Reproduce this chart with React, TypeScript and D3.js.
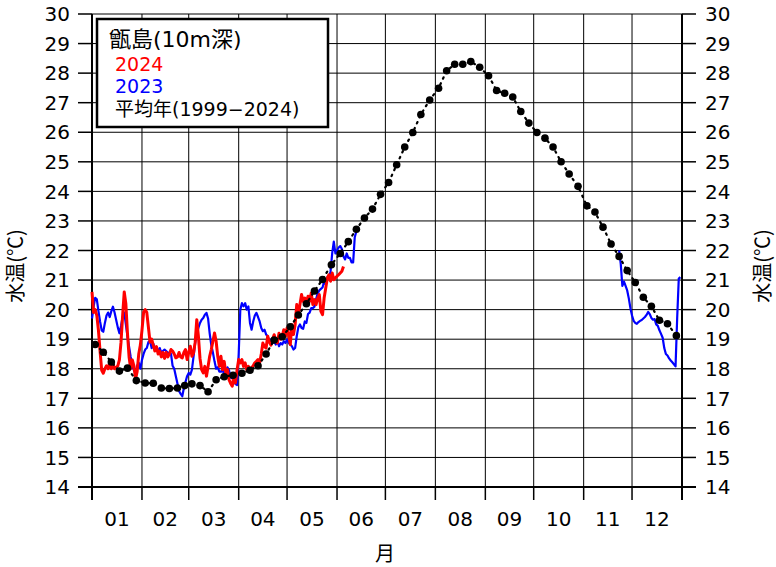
import React from "react";
import * as d3 from "d3";

// ---- data ----
const monthDays = [31, 29, 31, 30, 31, 30, 31, 31, 30, 31, 30, 31];
const monthLabels = ["01", "02", "03", "04", "05", "06", "07", "08", "09", "10", "11", "12"];
const yTicks = [14, 15, 16, 17, 18, 19, 20, 21, 22, 23, 24, 25, 26, 27, 28, 29, 30];

// 平均年 (1999-2024): half-month-period (半旬) means, 6 per month
const avgValues = [
  18.82, 18.56, 18.23, 17.92, 18.02, 17.6,
  17.52, 17.51, 17.35, 17.33, 17.35, 17.43,
  17.49, 17.43, 17.22, 17.63, 17.73, 17.78,
  17.85, 17.95, 18.1, 18.5, 18.97, 19.08,
  19.42, 19.82, 20.2, 20.63, 21.02, 21.52,
  21.9, 22.3, 22.72, 23.1, 23.4, 23.9,
  24.3, 24.9, 25.5, 25.99, 26.6, 27.09,
  27.49, 28.08, 28.3, 28.3, 28.39, 28.2,
  27.91, 27.41, 27.32, 27.19, 26.7, 26.31,
  25.99, 25.8, 25.5, 25.0, 24.59, 24.17,
  23.51, 23.3, 22.79, 22.22, 21.8, 21.32,
  20.92, 20.42, 20.11, 19.64, 19.52, 19.12,
];

// 2024 daily values from Jan 1
const red2024 = [
  20.6, 19.9, 20.0, 19.8, 19.3, 18.6, 17.95, 17.85, 18.0, 18.1,
  18.0, 18.2, 18.0, 18.15, 18.0, 18.05, 18.1, 18.3, 18.9, 19.8,
  20.6, 20.2, 19.2, 18.4, 18.0, 18.3, 18.1, 17.65, 17.9, 18.5,
  18.8, 19.3, 19.9, 20.0, 19.9, 19.4, 18.9, 19.0, 18.8, 18.6,
  18.75, 18.5, 18.6, 18.4, 18.55, 18.35, 18.55, 18.4, 18.5, 18.65,
  18.6, 18.5, 18.37, 18.4, 18.55, 18.4, 18.37, 18.55, 18.65, 18.31,
  18.55, 18.76, 18.42, 18.53, 18.9, 19.66, 19.1, 18.35, 17.97, 17.86,
  18.08, 17.75, 18.08, 18.42, 18.65, 18.93, 19.21, 18.93, 18.42, 18.08,
  18.42, 17.97, 18.25, 17.86, 17.97, 17.63, 17.5, 17.41, 17.75, 17.52,
  17.97, 18.31, 18.2, 18.31, 18.08, 18.2, 17.97, 18.08, 17.97, 18.03,
  18.1, 18.2, 18.25, 18.31, 18.2, 18.5, 18.87, 18.75, 18.7, 19.1,
  18.9, 18.8, 19.0, 19.15, 18.95, 18.87, 19.2, 19.0, 19.1, 19.32,
  19.1, 19.38, 19.16, 18.82, 19.49, 19.16, 19.49, 20.17, 19.83, 20.17,
  20.51, 20.28, 20.39, 20.23, 20.45, 20.28, 20.56, 20.17, 20.34, 20.17,
  20.39, 20.51, 19.94, 19.83, 20.39, 20.73, 21.07, 21.18, 20.96, 21.24,
  21.01, 21.07, 21.13, 21.18, 21.24, 21.3, 21.46,
];

// 2023 daily values from Jan 1 (first part)
const blue2023a = [
  19.7, 20.1, 20.4, 20.35, 19.95, 19.6, 19.3, 19.25, 19.55, 19.8,
  19.9, 19.75, 19.95, 20.1, 19.9, 19.65, 19.4, 19.2, 19.45, 19.75,
  19.9, 19.5, 19.1, 18.75, 18.4, 18.1, 17.95, 17.85, 18.1, 18.2,
  18.0, 18.3, 18.5, 18.65, 18.7, 18.9, 18.95, 18.7, 18.85, 18.7,
  18.65, 18.6, 18.7, 18.55, 18.6, 18.65, 18.6, 18.55, 18.53, 18.5,
  18.1, 18.0, 17.75, 17.5, 17.25, 17.15, 17.07, 17.35, 17.55, 17.75,
  17.86, 17.8, 17.97, 18.42, 18.87, 19.21, 19.38, 19.55, 19.66, 19.72,
  19.83, 19.89, 19.7, 19.2, 18.8, 18.55, 18.25, 18.0, 18.05, 17.9,
  17.9, 17.97, 17.8, 17.9, 18.05, 17.95, 17.7, 17.68, 17.6, 17.48,
  17.45, 18.5, 20.0, 20.22, 20.11, 20.22, 20.0, 20.11, 19.55, 19.32,
  19.6, 19.8, 19.89, 19.75, 19.6, 19.38, 19.27, 19.32, 19.16, 19.1,
  18.93, 18.99, 18.87, 18.93, 18.82, 18.93, 18.76, 18.87, 18.82, 18.93,
  18.87, 18.99, 18.87, 18.82, 18.76, 18.65, 18.7, 19.1, 19.4, 19.5,
  19.38, 19.35, 19.6, 19.55, 19.85, 19.9, 20.05, 20.05, 20.1, 20.35,
  20.55, 20.65, 20.7, 20.75, 20.95, 20.85, 21.1, 21.05, 21.3, 21.9,
  22.3, 21.9, 22.0, 22.1, 22.15, 22.05, 21.8, 21.7, 21.9, 21.75,
  21.75, 21.6, 21.6, 22.45, 22.65,
];

// 2023 daily values, second part (starting day index 327 = Nov 23)
const blue2023bStart = 327;
const blue2023b = [
  22.0, 21.55, 20.8, 20.95, 20.8, 20.65, 20.38, 20.05, 19.8, 19.62,
  19.55, 19.52, 19.58, 19.62, 19.65, 19.7, 19.75, 19.82, 19.92, 19.85,
  19.72, 19.66, 19.68, 19.5, 19.45, 19.3, 19.18, 19.05, 18.7, 18.5,
  18.45, 18.35, 18.28, 18.22, 18.15, 18.08, 19.7, 21.05, 21.1,
];

const FONT = "'DejaVu Sans', 'Noto Sans CJK JP', sans-serif";
const CJK = "'Noto Sans CJK JP', sans-serif";

export default function App() {
  const W = 776, H = 567;
  const left = 92, right = 682, top = 14, bottom = 487;
  const totalDays = d3.sum(monthDays);
  const x = d3.scaleLinear().domain([0, totalDays]).range([left, right]);
  const y = d3.scaleLinear().domain([14, 30]).range([bottom, top]);

  const bounds = Array.from(d3.cumsum([0, ...monthDays]));

  const avgPts: [number, number][] = [];
  monthDays.forEach((dim, m) => {
    for (let j = 0; j < 6; j++) {
      const s = 5 * j;
      const e = j < 5 ? 5 * j + 4 : dim - 1;
      avgPts.push([bounds[m] + (s + e) / 2, avgValues[m * 6 + j]]);
    }
  });

  const line = d3.line<[number, number]>().x((d) => x(d[0])).y((d) => y(d[1]));
  const redPts = red2024.map((v, i) => [i, v] as [number, number]);
  const blueA = blue2023a.map((v, i) => [i, v] as [number, number]);
  const blueB = blue2023b.map((v, i) => [blue2023bStart + i, v] as [number, number]);

  return (
    <svg width={W} height={H} style={{ position: "absolute", left: 0, top: 0, background: "#fff" }} fontFamily={FONT}>
      <rect x={0} y={0} width={W} height={H} fill="#fff" />
      {yTicks.map((t) => (
        <line key={"gy" + t} x1={left} x2={right} y1={y(t)} y2={y(t)} stroke="#000" strokeWidth={1} />
      ))}
      {bounds.slice(1, -1).map((b) => (
        <line key={"gx" + b} x1={x(b)} x2={x(b)} y1={top} y2={bottom} stroke="#000" strokeWidth={1} />
      ))}
      <line x1={left} x2={left} y1={top} y2={bottom + 13} stroke="#000" strokeWidth={2} />
      <line x1={right} x2={right} y1={top} y2={bottom + 13} stroke="#000" strokeWidth={2} />
      <line x1={left - 14} x2={right + 14} y1={bottom} y2={bottom} stroke="#000" strokeWidth={2} />
      {yTicks.map((t) => (
        <g key={"ty" + t}>
          <line x1={left - 14} x2={left} y1={y(t)} y2={y(t)} stroke="#000" strokeWidth={1.5} />
          <line x1={right} x2={right + 14} y1={y(t)} y2={y(t)} stroke="#000" strokeWidth={1.5} />
          <text x={70} y={y(t)} dy="0.36em" textAnchor="end" fontSize={20} fill="#000">{t}</text>
          <text x={705} y={y(t)} dy="0.36em" textAnchor="start" fontSize={20} fill="#000">{t}</text>
        </g>
      ))}
      {bounds.map((b) => (
        <line key={"tx" + b} x1={x(b)} x2={x(b)} y1={bottom} y2={bottom + 13} stroke="#000" strokeWidth={1.5} />
      ))}
      {monthLabels.map((l, i) => (
        <text key={"ml" + l} x={x((bounds[i] + bounds[i + 1]) / 2)} y={526} textAnchor="middle" fontSize={20} fill="#000">{l}</text>
      ))}
      <text x={385} y={561} textAnchor="middle" fontSize={20} fill="#000" fontFamily={CJK}>月</text>
      <text transform="translate(23,266) rotate(-90)" textAnchor="middle" fontSize={20} fill="#000" fontFamily={CJK}>水温(℃)</text>
      <text transform="translate(770,266) rotate(-90)" textAnchor="middle" fontSize={20} fill="#000" fontFamily={CJK}>水温(℃)</text>

      <path d={line(blueA) || ""} fill="none" stroke="#0000ff" strokeWidth={2.2} strokeLinejoin="round" />
      <path d={line(blueB) || ""} fill="none" stroke="#0000ff" strokeWidth={2.2} strokeLinejoin="round" />
      <path d={line(redPts) || ""} fill="none" stroke="#ff0000" strokeWidth={3} strokeLinejoin="round" />
      <path d={line(avgPts) || ""} fill="none" stroke="#000" strokeWidth={2.2} strokeDasharray="1.5 5" strokeLinecap="round" />
      {avgPts.map((p, i) => (
        <circle key={"a" + i} cx={x(p[0])} cy={y(p[1])} r={3.8} fill="#000" />
      ))}

      <rect x={97} y={19} width={231} height={108} fill="#fff" stroke="#000" strokeWidth={2.5} />
      <text x={109} y={47} fontSize={22} fill="#000">甑島(10m深)</text>
      <text x={115} y={71} fontSize={19} fill="#ff0000">2024</text>
      <text x={115} y={93} fontSize={19} fill="#0000ff">2023</text>
      <text x={115} y={116} fontSize={19} fill="#000">平均年(1999−2024)</text>
    </svg>
  );
}
